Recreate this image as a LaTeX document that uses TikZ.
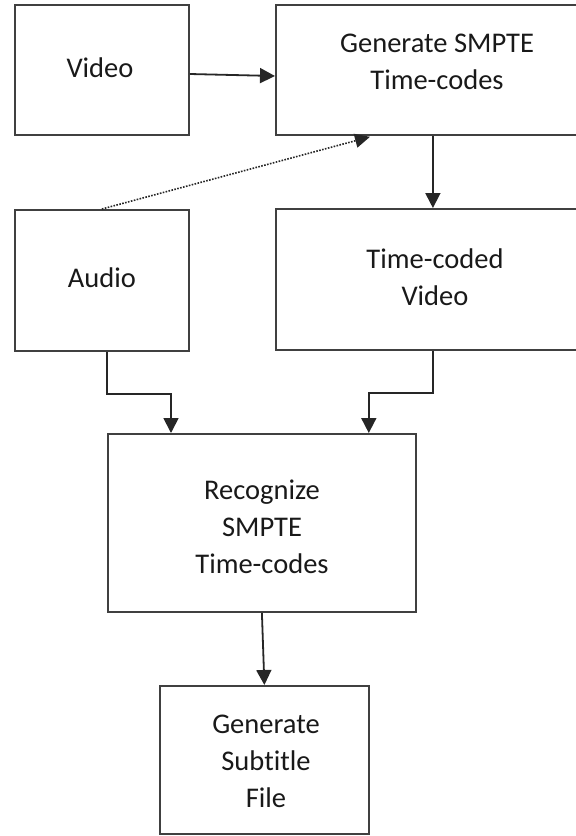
\documentclass[tikz,border=0pt]{standalone}
\usepackage{fontspec}
\setmainfont[Ligatures=NoCommon]{Carlito}
\usetikzlibrary{arrows.meta,calc}
\begin{document}
\begin{tikzpicture}[x=1pt,y=-1pt,
  box/.style={draw=black!75,line width=1.8pt,rectangle,anchor=north west,inner sep=0pt},
  txt/.style={inner sep=0pt,align=center,text=black!90,font=\fontsize{28.5pt}{37pt}\selectfont},
  arr/.style={line width=1.8pt,black!85,-{Triangle[length=15pt,width=15pt]}},
  dotarr/.style={line width=1.6pt,black!85,dash pattern=on 1.6pt off 1.4pt,-{Triangle[length=15pt,width=14pt]}}]
\useasboundingbox (0,0) rectangle (576,836);
% boxes
\node[box,minimum width=174pt,minimum height=130pt] (video) at (14,4) {};
\node[box,minimum width=314pt,minimum height=130pt] (gen) at (275,4) {};
\node[box,minimum width=174pt,minimum height=141pt] (audio) at (14,209) {};
\node[box,minimum width=314pt,minimum height=141pt] (tc) at (275,208) {};
\node[box,minimum width=308pt,minimum height=178pt] (recog) at (107,433) {};
\node[box,minimum width=209pt,minimum height=148pt] (sub) at (159,685) {};
% texts
\node[txt] (videot) at (100,68) {Video};
\node[txt] (gent) at (437,62) {Generate SMPTE\\Time-codes};
\node[txt] (audiot) at (102,278) {Audio};
\node[txt] (tct) at (435,277) {Time-coded\\Video};
\node[txt] (recogt) at (262,527) {Recognize\\SMPTE\\Time-codes};
\node[txt] (subt) at (266,761) {Generate\\Subtitle\\File};
% connectors
\draw[arr] ([yshift=-70pt]video.north east) -- ([yshift=-72pt]gen.north west);
\draw[dotarr] (audio.north) -- ([xshift=95pt,yshift=-1pt]gen.south west);
\draw[arr] (gen.south) -- (tc.north);
\draw[arr] ([xshift=5pt]audio.south) -- ++(0,42) -| ([xshift=64pt]recog.north west);
\draw[arr] (tc.south) -- ++(0,42) -| ([xshift=-48pt]recog.north east);
\draw[arr] (recog.south) -- (sub.north);
\end{tikzpicture}
\end{document}
